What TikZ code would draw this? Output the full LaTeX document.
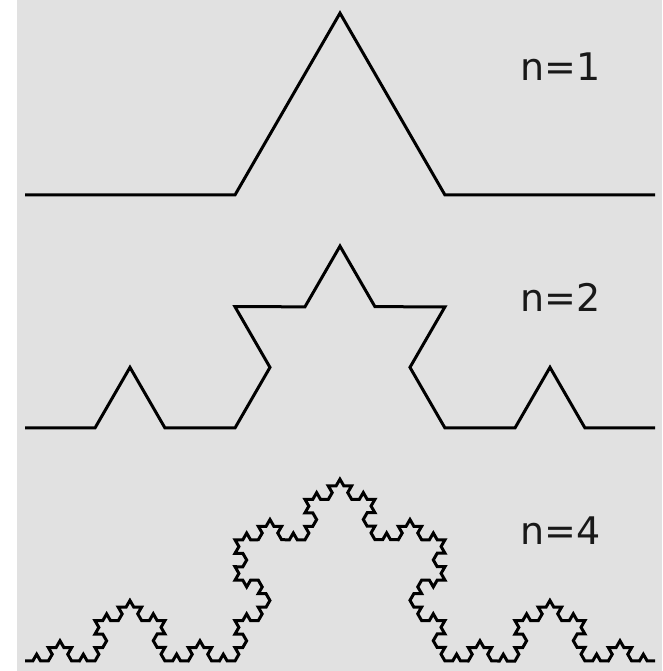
\documentclass[tikz,border=0pt]{standalone}
\usepackage{fontspec}
\setmainfont{DejaVu Sans}
\usepackage{tikz}
\usetikzlibrary{decorations.fractals}
\definecolor{paper}{RGB}{225, 225, 225}

\begin{document}
\begin{tikzpicture}[
    x=1pt, y=1pt,
    curve/.style={line width=3pt, line join=miter, color=black, decoration=Koch snowflake},
    lbl/.style={font=\fontsize{38}{40}\selectfont, anchor=base, text=black!90}
]
\useasboundingbox (0,0) rectangle (662,671);
\fill[white] (0,0) rectangle (17,671);
\fill[paper] (17,0) rectangle (662,671);

% the three steps of the curve
\coordinate (a1) at (25,476); \coordinate (b1) at (655,476);
\coordinate (a2) at (25,243); \coordinate (b2) at (655,243);
\coordinate (a4) at (25,10);  \coordinate (b4) at (655,10);
\draw[curve] decorate{ (a1) -- (b1) };
\draw[curve] decorate{ decorate{ (a2) -- (b2) } };
\draw[curve] decorate{ decorate{ decorate{ decorate{ (a4) -- (b4) } } } };

\node[lbl] (n1) at (560.5,590) {n=1};
\node[lbl] (n2) at (560.5,359) {n=2};
\node[lbl] (n4) at (560.5,126) {n=4};
\end{tikzpicture}
\end{document}
